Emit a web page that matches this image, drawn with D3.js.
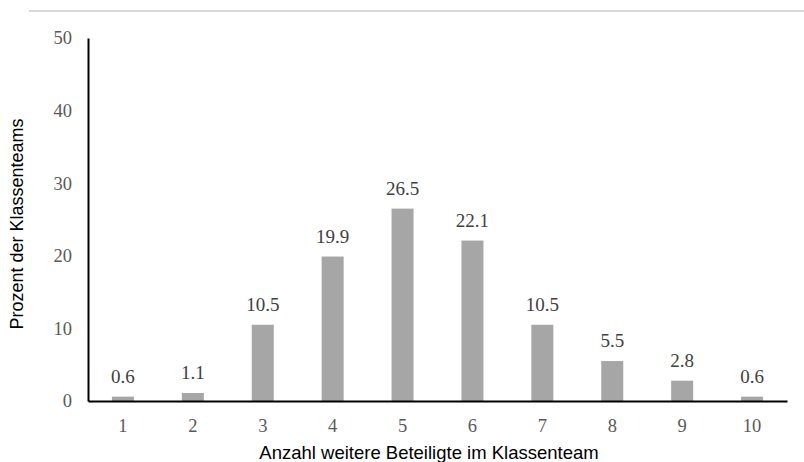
<!DOCTYPE html>
<html><head><meta charset="utf-8">
<script src="https://cdn.jsdelivr.net/npm/d3@7"></script>
<style>body{margin:0;background:#fff}svg{display:block}</style>
</head><body>
<svg id="c" width="804" height="462"></svg>
<script>
const categories = ["1","2","3","4","5","6","7","8","9","10"];
const values = [0.6, 1.1, 10.5, 19.9, 26.5, 22.1, 10.5, 5.5, 2.8, 0.6];
const yTicks = [0, 10, 20, 30, 40, 50];
const xTitle = "Anzahl weitere Beteiligte im Klassenteam";
const yTitle = "Prozent der Klassenteams";

(function () {
const svg = d3.select("#c");
const mL = 88, mR = 787, mT = 38, mB = 401;
const x = d3.scaleBand().domain(categories).range([mL, mR]).paddingInner(0.685).paddingOuter(0.3425);
const y = d3.scaleLinear().domain([0, 50]).range([mB, mT]);

// top border line
svg.append("line").attr("x1", 29).attr("x2", 804).attr("y1", 11).attr("y2", 11)
  .attr("stroke", "#d9d9d9").attr("stroke-width", 2);

// bars
svg.selectAll("rect.bar").data(values).enter().append("rect")
  .attr("x", (d, i) => x(categories[i]))
  .attr("width", x.bandwidth())
  .attr("y", d => y(d))
  .attr("height", d => y(0) - y(d))
  .attr("fill", "#a6a6a6");

// data labels
svg.selectAll("text.lbl").data(values).enter().append("text")
  .attr("x", (d, i) => x(categories[i]) + x.bandwidth() / 2)
  .attr("y", d => y(d) - 14)
  .attr("text-anchor", "middle")
  .attr("font-family", "Liberation Serif, Times New Roman, serif")
  .attr("font-size", 19)
  .attr("fill", "#404040")
  .text(d => d.toFixed(1));

// y axis
const yAxis = svg.append("g").attr("transform", `translate(${mL},0)`)
  .call(d3.axisLeft(y).tickValues(yTicks).tickSize(0).tickPadding(16));
yAxis.select(".domain").attr("stroke", "#000").attr("stroke-width", 2);
yAxis.selectAll("text").attr("font-family", "Liberation Serif, Times New Roman, serif")
  .attr("font-size", 18.5).attr("fill", "#595959");

// x axis
const xAxis = svg.append("g").attr("transform", `translate(0,${mB})`)
  .call(d3.axisBottom(x).tickSize(0).tickPadding(18));
xAxis.select(".domain").attr("stroke", "#000").attr("stroke-width", 2);
xAxis.selectAll("text").attr("font-family", "Liberation Serif, Times New Roman, serif")
  .attr("font-size", 18.5).attr("fill", "#595959");

// titles
svg.append("text").attr("x", 429).attr("y", 459).attr("text-anchor", "middle")
  .attr("font-family", "Liberation Sans, Arial, sans-serif").attr("font-size", 18.5)
  .attr("fill", "#000").text(xTitle);
svg.append("text").attr("transform", "translate(23,224) rotate(-90)").attr("text-anchor", "middle")
  .attr("font-family", "Liberation Sans, Arial, sans-serif").attr("font-size", 18)
  .attr("fill", "#000").text(yTitle);
})();
</script>
</body></html>
